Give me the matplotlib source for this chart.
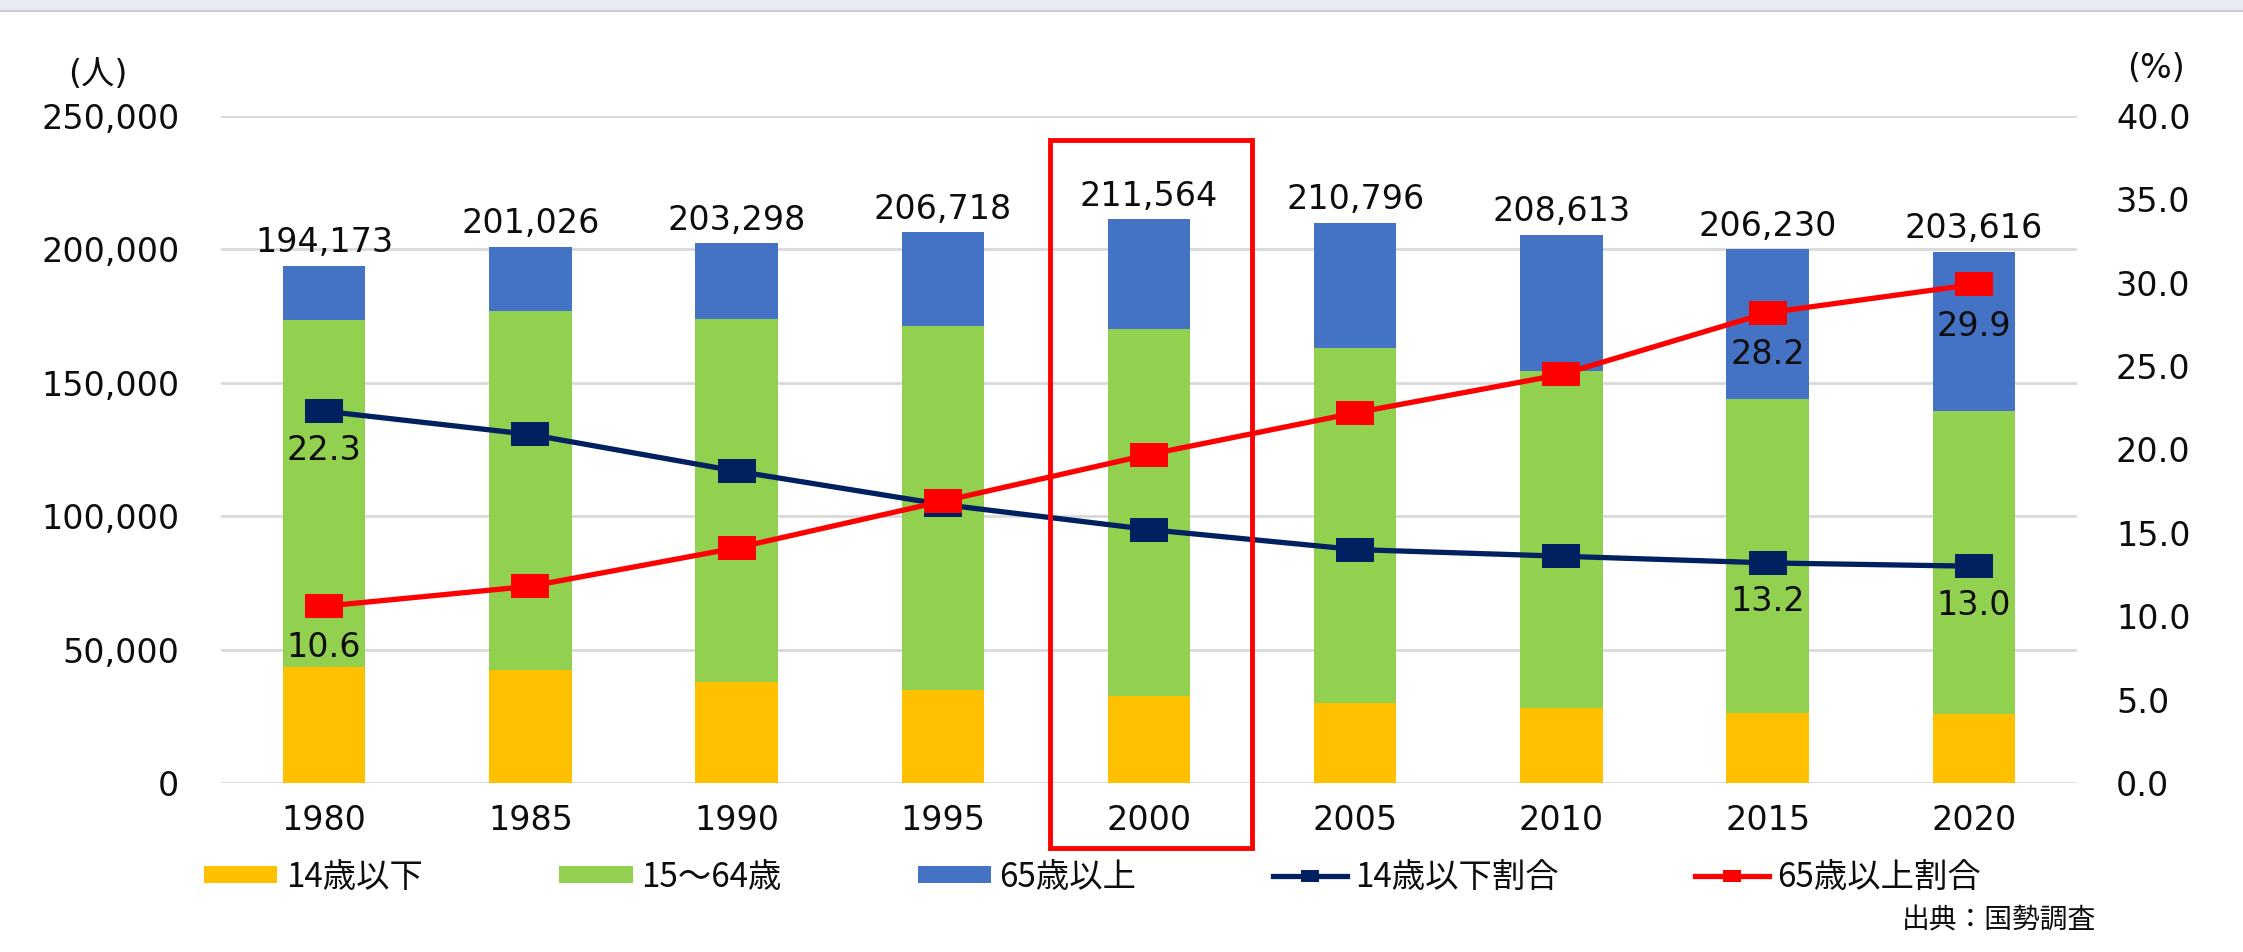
import numpy as np
import matplotlib
matplotlib.use('Agg')
import matplotlib.pyplot as plt
from matplotlib.patches import Rectangle
from matplotlib.lines import Line2D
from matplotlib.path import Path
from matplotlib.ticker import FuncFormatter

plt.rcParams['font.family'] = ['DejaVu Sans', 'Noto Sans CJK JP']

# values
years = ['1980', '1985', '1990', '1995', '2000', '2005', '2010', '2015', '2020']
totals = [194173, 201026, 203298, 206718, 211564, 210796, 208613, 206230, 203616]
age_0_14 = [43300, 42170, 37830, 34680, 32440, 29960, 28090, 26220, 25840]
age_15_64 = [130220, 134730, 135950, 136600, 137600, 132960, 126440, 117600, 113600]
age_65 = [20340, 24070, 28470, 35090, 41200, 47040, 50830, 56180, 59440]
ratio_0_14 = [22.3, 20.9, 18.7, 16.7, 15.2, 14.0, 13.6, 13.2, 13.0]
ratio_65 = [10.6, 11.8, 14.1, 16.9, 19.7, 22.2, 24.5, 28.2, 29.9]
labelled = [0, 7, 8]  # points that carry a % label
series_names = ['14歳以下', '15～64歳', '65歳以上', '14歳以下割合', '65歳以上割合']

c_young = '#FFC000'
c_work = '#92D050'
c_old = '#4472C4'
c_navy = '#002060'
c_red = '#FF0000'
c_text = '#0d0d0d'
num_size = 24

W, H = 2243, 952
fig = plt.figure(figsize=(W / 100, H / 100), dpi=100)
ax = fig.add_axes([221 / W, 1 - 783 / H, (2077 - 221) / W, (783 - 116) / H])

x = np.arange(len(years))
bw = 0.40
b1 = ax.bar(x, age_0_14, bw, color=c_young, zorder=2)
b2 = ax.bar(x, age_15_64, bw, bottom=age_0_14, color=c_work, zorder=2)
bottom3 = np.array(age_0_14) + np.array(age_15_64)
b3 = ax.bar(x, age_65, bw, bottom=bottom3, color=c_old, zorder=2)

tops = bottom3 + np.array(age_65)
for i, t in enumerate(totals):
    ax.annotate(f'{t:,}', (x[i], tops[i]), xytext=(0, 10), textcoords='offset points',
                ha='center', va='baseline', fontsize=num_size, color=c_text)

ax.set_xlim(-0.5, len(years) - 0.5)
ax.set_ylim(0, 250000)
ax.set_yticks(np.arange(0, 250001, 50000))
ax.yaxis.set_major_formatter(FuncFormatter(lambda v, p: f'{v:,.0f}'))
ax.set_xticks(x)
ax.set_xticklabels(years)
ax.tick_params(axis='y', length=0, labelsize=num_size, pad=30, labelcolor=c_text)
ax.tick_params(axis='x', length=0, labelsize=num_size, pad=15, labelcolor=c_text)
ax.yaxis.grid(True, color='#d9d9d9', lw=2)
ax.set_axisbelow(True)
for s in ax.spines.values():
    s.set_visible(False)

# right axis for the ratios
ax2 = ax.twinx()
box = Path([(-0.78, -0.5), (0.78, -0.5), (0.78, 0.5), (-0.78, 0.5), (-0.78, -0.5)],
           [Path.MOVETO, Path.LINETO, Path.LINETO, Path.LINETO, Path.CLOSEPOLY])
l1, = ax2.plot(x, ratio_0_14, color=c_navy, lw=3.8, marker=box, ms=27, mew=0, zorder=3)
l2, = ax2.plot(x, ratio_65, color=c_red, lw=3.8, marker=box, ms=27, mew=0, zorder=4)
for i in labelled:
    ax2.annotate(f'{ratio_0_14[i]:.1f}', (x[i], ratio_0_14[i]), xytext=(0, -28),
                 textcoords='offset points', ha='center', va='center', fontsize=num_size,
                 color=c_text)
    ax2.annotate(f'{ratio_65[i]:.1f}', (x[i], ratio_65[i]), xytext=(0, -30),
                 textcoords='offset points', ha='center', va='center', fontsize=num_size,
                 color=c_text)
ax2.set_ylim(0, 40)
ax2.set_yticks(np.arange(0, 40.1, 5))
ax2.yaxis.set_major_formatter(FuncFormatter(lambda v, p: f'{v:.1f}'))
ax2.tick_params(axis='y', length=0, labelsize=num_size, pad=28, labelcolor=c_text)
for s in ax2.spines.values():
    s.set_visible(False)

# red highlight box around 2000
ax2.add_patch(Rectangle((3.52, -24230), 0.98, 265170, transform=ax.transData,
                        fill=False, edgecolor=c_red, lw=3.5, clip_on=False, zorder=6))

fig.text(98 / W, 1 - 74 / H, '(人)', ha='center', va='center', fontsize=num_size, color=c_text)
fig.text(2156 / W, 1 - 68 / H, '(%)', ha='center', va='center', fontsize=num_size, color=c_text)
fig.text(2096 / W, 1 - 920 / H, '出典：国勢調査', ha='right', va='center', fontsize=20,
         family=['Noto Sans CJK JP', 'DejaVu Sans'], color=c_text)

handles = [b1, b2, b3, l1, l2]
fig.legend(handles, series_names, loc='center', bbox_to_anchor=(0.487, 1 - 877 / H), ncol=5,
           frameon=False, prop={'family': ['Noto Sans CJK JP', 'DejaVu Sans'], 'size': 24},
           labelcolor=c_text, handlelength=2.2, handleheight=0.4, handletextpad=0.25,
           columnspacing=4.1, markerscale=0.5)

# grey strip at the very top of the picture
fig.add_artist(Rectangle((0, 1 - 10 / H), 1, 10 / H, transform=fig.transFigure,
                         color='#e8ebf0', lw=0))
fig.add_artist(Line2D([0, 1], [1 - 10.5 / H, 1 - 10.5 / H], transform=fig.transFigure,
                      color='#c9cdd3', lw=1.5))

fig.savefig('out.png', dpi=100)
